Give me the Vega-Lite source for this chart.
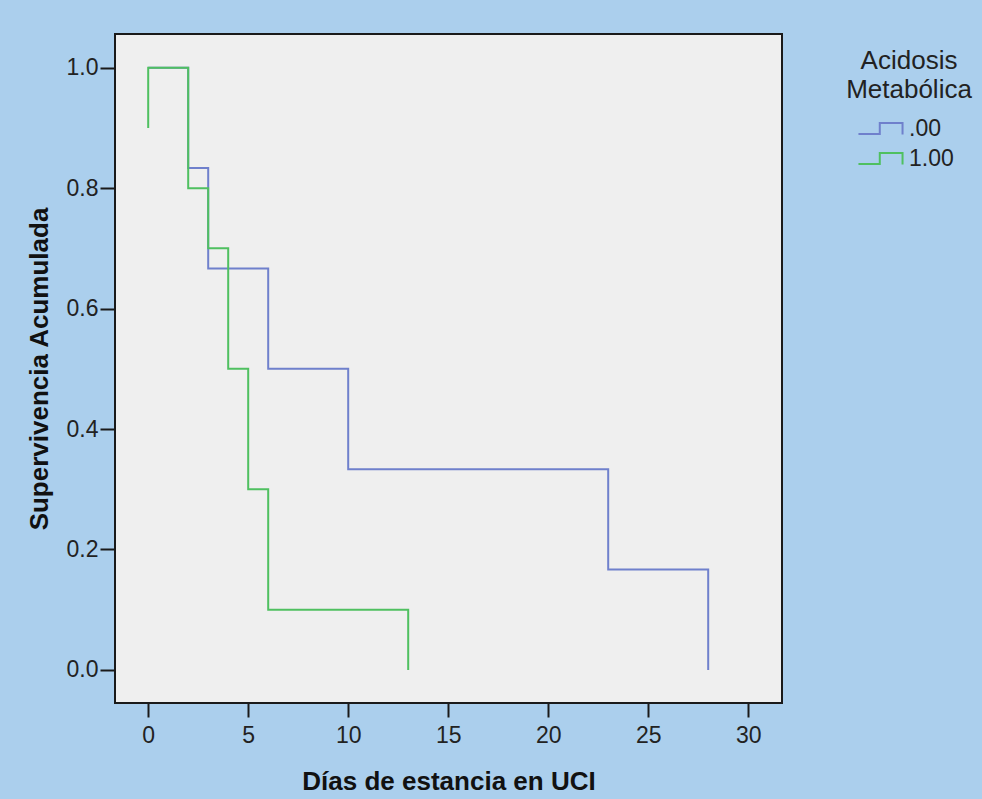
{
  "$schema": "https://vega.github.io/schema/vega-lite/v6.json",
  "width": 667,
  "height": 669,
  "autosize": {"type": "none"},
  "padding": {"left": 115, "top": 34, "right": 200, "bottom": 96},
  "background": "#abcfed",
  "config": {
    "font": "Liberation Sans",
    "view": {"fill": "#efefef", "stroke": "#1a1a1a", "strokeWidth": 2}
  },
  "data": {
    "values": [
      {"grupo": ".00", "i": 1, "dias": 0, "surv": 1},
      {"grupo": ".00", "i": 2, "dias": 2, "surv": 1},
      {"grupo": ".00", "i": 3, "dias": 2, "surv": 0.8333},
      {"grupo": ".00", "i": 4, "dias": 3, "surv": 0.8333},
      {"grupo": ".00", "i": 5, "dias": 3, "surv": 0.6667},
      {"grupo": ".00", "i": 6, "dias": 6, "surv": 0.6667},
      {"grupo": ".00", "i": 7, "dias": 6, "surv": 0.5},
      {"grupo": ".00", "i": 8, "dias": 10, "surv": 0.5},
      {"grupo": ".00", "i": 9, "dias": 10, "surv": 0.3333},
      {"grupo": ".00", "i": 10, "dias": 23, "surv": 0.3333},
      {"grupo": ".00", "i": 11, "dias": 23, "surv": 0.1667},
      {"grupo": ".00", "i": 12, "dias": 28, "surv": 0.1667},
      {"grupo": ".00", "i": 13, "dias": 28, "surv": 0},
      {"grupo": "1.00", "i": 1, "dias": 0, "surv": 0.9},
      {"grupo": "1.00", "i": 2, "dias": 0, "surv": 1},
      {"grupo": "1.00", "i": 3, "dias": 2, "surv": 1},
      {"grupo": "1.00", "i": 4, "dias": 2, "surv": 0.8},
      {"grupo": "1.00", "i": 5, "dias": 3, "surv": 0.8},
      {"grupo": "1.00", "i": 6, "dias": 3, "surv": 0.7},
      {"grupo": "1.00", "i": 7, "dias": 4, "surv": 0.7},
      {"grupo": "1.00", "i": 8, "dias": 4, "surv": 0.5},
      {"grupo": "1.00", "i": 9, "dias": 5, "surv": 0.5},
      {"grupo": "1.00", "i": 10, "dias": 5, "surv": 0.3},
      {"grupo": "1.00", "i": 11, "dias": 6, "surv": 0.3},
      {"grupo": "1.00", "i": 12, "dias": 6, "surv": 0.1},
      {"grupo": "1.00", "i": 13, "dias": 13, "surv": 0.1},
      {"grupo": "1.00", "i": 14, "dias": 13, "surv": 0}
    ]
  },
  "mark": {"type": "line", "strokeWidth": 2, "clip": true},
  "encoding": {
    "x": {
      "field": "dias",
      "type": "quantitative",
      "scale": {"domain": [-1.66, 31.69], "nice": false, "zero": false},
      "axis": {
        "title": "Días de estancia en UCI",
        "values": [0, 5, 10, 15, 20, 25, 30],
        "grid": false,
        "domain": false,
        "tickSize": 14,
        "tickWidth": 2,
        "tickColor": "#1a1a1a",
        "labelPadding": 7,
        "labelFontSize": 23,
        "labelColor": "#222222",
        "titleFontSize": 26,
        "titleFontWeight": "bold",
        "titleColor": "#111111",
        "titlePadding": 21
      }
    },
    "y": {
      "field": "surv",
      "type": "quantitative",
      "scale": {"domain": [-0.055, 1.056], "nice": false, "zero": false},
      "axis": {
        "title": "Supervivencia Acumulada",
        "values": [0, 0.2, 0.4, 0.6, 0.8, 1.0],
        "format": ".1f",
        "grid": false,
        "domain": false,
        "tickSize": 15,
        "tickWidth": 2,
        "tickColor": "#1a1a1a",
        "labelPadding": 2,
        "labelFontSize": 23,
        "labelColor": "#222222",
        "titleFontSize": 26,
        "titleFontWeight": "bold",
        "titleColor": "#111111",
        "titlePadding": 14
      }
    },
    "color": {
      "field": "grupo",
      "type": "nominal",
      "scale": {"domain": [".00", "1.00"], "range": ["#6f80cc", "#4fc060"]},
      "legend": {
        "title": ["Acidosis", "Metabólica"],
        "orient": "none",
        "legendX": 731,
        "legendY": 14,
        "padding": 0,
        "titleFontSize": 26,
        "titleFontWeight": "normal",
        "titleColor": "#222222",
        "titleLineHeight": 29,
        "titleAnchor": "middle",
        "titleAlign": "center",
        "titlePadding": 10,
        "symbolType": "M-1.52,0.38 L-0.05,0.38 L-0.05,-0.38 L1.52,-0.38 L1.52,0.42",
        "symbolSize": 841,
        "symbolStrokeWidth": 2,
        "symbolFillColor": "transparent",
        "labelFontSize": 23,
        "labelColor": "#222222",
        "labelOffset": 13,
        "rowPadding": 2
      }
    },
    "order": {"field": "i", "type": "quantitative"}
  }
}
